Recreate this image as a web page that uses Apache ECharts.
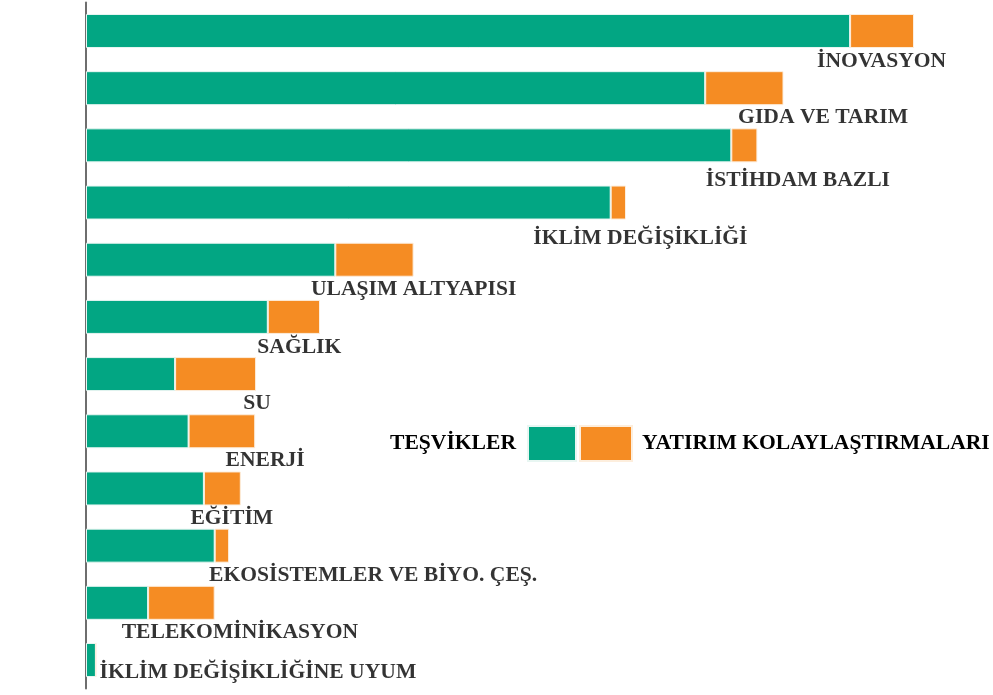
<!DOCTYPE html>
<html>
<head>
<meta charset="utf-8">
<script src="https://cdn.jsdelivr.net/npm/echarts@6/dist/echarts.min.js"></script>
<style>
  html, body { margin: 0; padding: 0; background: #fff; }
  #chart { width: 993px; height: 695px; }
</style>
</head>
<body>
<div id="chart"></div>
<script>
// kategoriler (yukaridan asagiya)
var categories = [
  "İNOVASYON", "GIDA VE TARIM", "İSTİHDAM BAZLI", "İKLİM DEĞİŞİKLİĞİ",
  "ULAŞIM ALTYAPISI", "SAĞLIK", "SU", "ENERJİ", "EĞİTİM",
  "EKOSİSTEMLER VE BİYO. ÇEŞ.", "TELEKOMİNİKASYON", "İKLİM DEĞİŞİKLİĞİNE UYUM"
];
// seri degerleri
var tesvikler = [84.9, 68.8, 71.7, 58.3, 27.7, 20.2, 9.9, 11.4, 13.1, 14.3, 6.9, 1.1];
var yatirim = [7.1, 8.7, 2.9, 1.7, 8.7, 5.8, 9.0, 7.4, 4.1, 1.6, 7.4, 0];

// etiket yerlesimi (deger ekseninde merkez, piksel olarak asagi kayma)
var labelX = [88.4, 81.9, 79.1, 61.6, 36.4, 23.7, 19.0, 19.9, 16.2, 31.9, 17.1, 19.1];
var labelDy = [30, 29, 35, 36, 30, 31, 29, 29, 30, 30, 30, 12];

var green = "#02a683";
var orange = "#f58c23";
var font = "'Liberation Serif', 'Times New Roman', serif";
var textCss = { fontFamily: font, fontWeight: "bold", fontSize: 21.6, color: "#000", textBorderWidth: 0 };

var chart = echarts.init(document.getElementById("chart"));

chart.setOption({
  animation: false,
  grid: { left: 86, right: 7, top: 2.4, bottom: 6.4 },
  legend: [
    {
      data: ["TEŞVİKLER"],
      right: 416,
      top: 425,
      padding: 0,
      align: "right",
      icon: "rect",
      itemWidth: 48,
      itemHeight: 35,
      selectedMode: false,
      textStyle: Object.assign({ padding: [0, 7, 0, 0] }, textCss)
    },
    {
      data: ["YATIRIM KOLAYLAŞTIRMALARI"],
      left: 579,
      top: 425,
      padding: 0,
      align: "left",
      icon: "rect",
      itemWidth: 52,
      itemHeight: 35,
      selectedMode: false,
      textStyle: Object.assign({ padding: [0, 0, 0, 5] }, textCss)
    }
  ],
  xAxis: {
    type: "value",
    min: 0,
    max: 100,
    show: false
  },
  yAxis: {
    type: "category",
    inverse: true,
    data: categories,
    axisLine: { show: true, lineStyle: { color: "#6e6e6e", width: 2 } },
    axisTick: { show: false },
    axisLabel: { show: false },
    splitLine: { show: false }
  },
  series: [
    {
      name: "TEŞVİKLER",
      type: "bar",
      stack: "toplam",
      barWidth: 34,
      data: tesvikler,
      itemStyle: { color: green, borderColor: "#e8f6f2", borderWidth: 1 }
    },
    {
      name: "YATIRIM KOLAYLAŞTIRMALARI",
      type: "bar",
      stack: "toplam",
      barWidth: 34,
      data: yatirim,
      itemStyle: { color: orange, borderColor: "#fdeedd", borderWidth: 1 }
    },
    {
      type: "scatter",
      silent: true,
      symbolSize: 0,
      data: labelX.map(function (x, i) {
        return { value: [x, categories[i]], label: { offset: [0, labelDy[i]] } };
      }),
      label: Object.assign({
        show: true,
        position: "inside",
        formatter: function (p) { return p.value[1]; }
      }, textCss)
    }
  ]
});
</script>
</body>
</html>
